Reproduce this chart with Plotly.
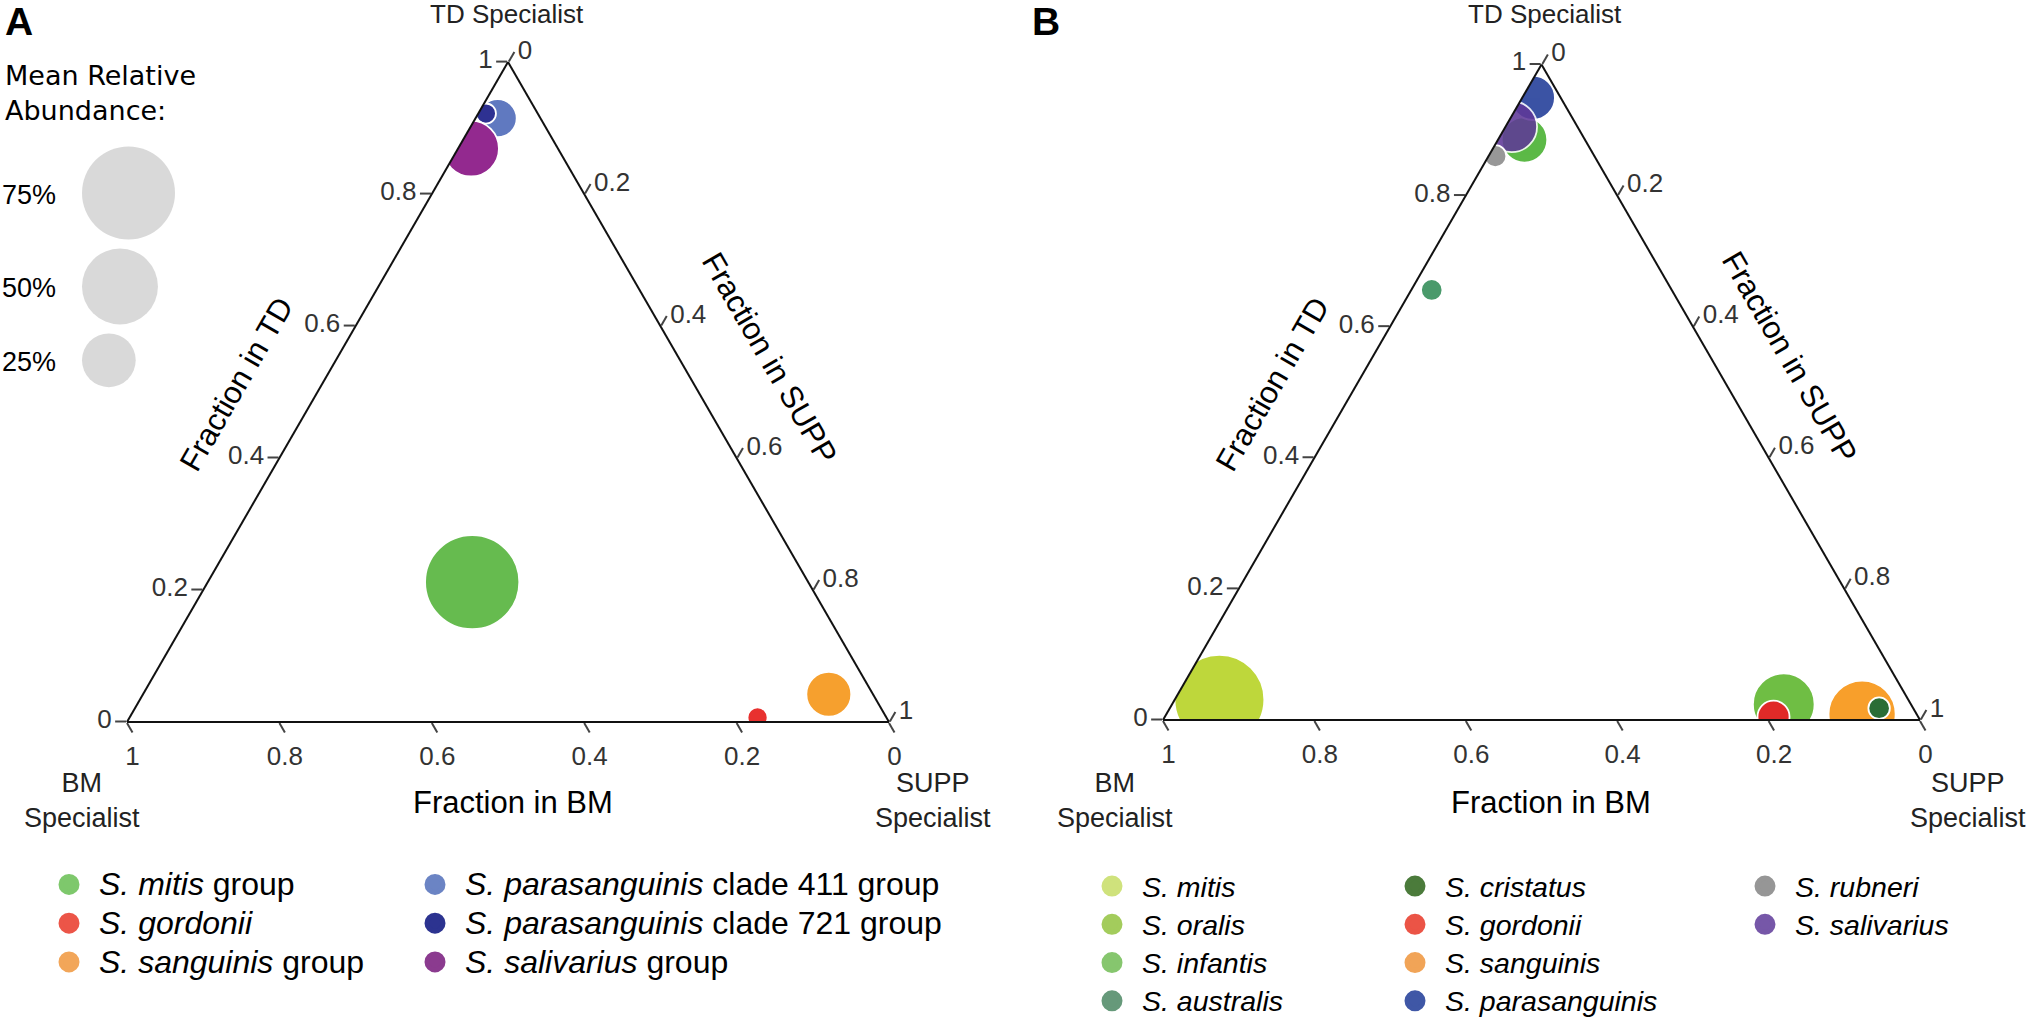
import math
import plotly.graph_objects as go

W, H = 2029, 1023

# ---------------- Panel A data ----------------
a_names = ["<i>S. mitis</i> group", "<i>S. gordonii</i>", "<i>S. sanguinis</i> group",
           "<i>S. parasanguinis</i> clade 411 group", "<i>S. parasanguinis</i> clade 721 group",
           "<i>S. salivarius</i> group"]
a_td = [0.212, 0.007, 0.042, 0.915, 0.922, 0.869]
a_bm = [0.441, 0.169, 0.058, 0.056, 0.068, 0.114]
a_supp = [0.347, 0.824, 0.900, 0.029, 0.010, 0.017]
a_abund = [77, 3.5, 17.5, 12.5, 3.5, 27]
a_colors = ["#66bb4f", "#e8312f", "#f6a02e", "#6079c0", "#2e3192", "#93298f"]
a_leg_colors = ["#7ec86c", "#ec5548", "#f2a659", "#6b84c4", "#2c3390", "#8b3b8f"]
a_leg_group = ["legend", "legend", "legend", "legend2", "legend2", "legend2"]

# ---------------- Panel B data ----------------
b_names = ["<i>S. mitis</i>", "<i>S. oralis</i>", "<i>S. infantis</i>", "<i>S. australis</i>",
           "<i>S. cristatus</i>", "<i>S. gordonii</i>", "<i>S. sanguinis</i>", "<i>S. parasanguinis</i>",
           "<i>S. rubneri</i>", "<i>S. salivarius</i>"]
b_td = [0.031, 0.024, 0.885, 0.656, 0.018, 0.005, 0.009, 0.949, 0.860, 0.905]
b_bm = [0.910, 0.168, 0.080, 0.317, 0.045, 0.191, 0.072, 0.037, 0.131, 0.087]
b_supp = [0.059, 0.808, 0.035, 0.027, 0.937, 0.804, 0.919, 0.014, 0.009, 0.008]
b_abund = [70, 33, 18, 4, 4, 8.9, 39, 17, 4.2, 22.5]
b_colors = ["#bed73b", "#6fbe44", "#5cb947", "#4a9a6b", "#2a6d36", "#e02a28", "#f89f2b",
            "#3b53a4", "#979797", "#5f3898"]
b_opacity = [1, 1, 1, 1, 1, 1, 1, 1, 1, 0.88]
b_leg_colors = ["#cfe27c", "#a3cc5c", "#86c66e", "#66997a", "#4b7b3b", "#eb5446", "#f1a457",
                "#3f57a6", "#969696", "#7657a8"]
b_leg_group = ["legend3", "legend3", "legend3", "legend3", "legend4", "legend4", "legend4",
               "legend4", "legend5", "legend5"]
b_draw_order = [0, 1, 2, 3, 7, 9, 8, 5, 6, 4]

# ---------------- size key ----------------
size_levels = [75, 50, 25]
size_labels = ["75%", "50%", "25%"]

K = 10.74                  # px of diameter per sqrt(percent)
SIZEREF = 2.0 / K ** 2     # plotly 'area' sizemode

ARIAL = "Liberation Sans, Arial, sans-serif"


def px(x, y):
    return x / W, 1 - y / H


def tri_domain(left, right, bottom):
    w = right - left
    h = w * math.sqrt(3) / 2
    top = bottom - h
    return dict(x=[left / W, right / W], y=[1 - bottom / H, 1 - top / H])


fig = go.Figure()

# Panel A data traces
for i in range(len(a_names)):
    fig.add_trace(go.Scatterternary(
        a=[a_td[i]], b=[a_bm[i]], c=[a_supp[i]], subplot="ternary",
        mode="markers", name=a_names[i], showlegend=False,
        marker=dict(size=[a_abund[i]], sizemode="area", sizeref=SIZEREF,
                    color=a_colors[i], opacity=1,
                    line=dict(color="white", width=1.8)),
        hoverinfo="name"))

# Panel B data traces
for i in b_draw_order:
    fig.add_trace(go.Scatterternary(
        a=[b_td[i]], b=[b_bm[i]], c=[b_supp[i]], subplot="ternary2",
        mode="markers", name=b_names[i], showlegend=False,
        marker=dict(size=[b_abund[i]], sizemode="area", sizeref=SIZEREF,
                    color=b_colors[i], opacity=b_opacity[i],
                    line=dict(color="white", width=1.8)),
        hoverinfo="name"))

# Size key (hidden cartesian axes measured in pixels)
key_left, key_top, key_gap = 82, 146.5, 9
key_x, key_y = [], []
cur = key_top
for v in size_levels:
    d = K * math.sqrt(v)
    key_x.append(key_left + d / 2)
    key_y.append(cur + d / 2)
    cur += d + key_gap
fig.add_trace(go.Scatter(
    x=key_x, y=key_y, mode="markers", showlegend=False, hoverinfo="skip",
    marker=dict(size=size_levels, sizemode="area", sizeref=SIZEREF, color="#d9d9d9",
                opacity=1, line=dict(width=0)),
    xaxis="x", yaxis="y"))

# Legend-only entries (bigger symbols)
for names, cols, groups, span in ((a_names, a_leg_colors, a_leg_group, 32),
                                  (b_names, b_leg_colors, b_leg_group, 28.5)):
    for n, c, g in zip(names, cols, groups):
        label = '<span style="font-size:%spx">%s</span>' % (span, n)
        fig.add_trace(go.Scatter(
            x=[None], y=[None], mode="markers", name=label, legend=g,
            marker=dict(size=16, color=c, line=dict(color=c, width=5)),
            xaxis="x", yaxis="y"))

axis_common = dict(
    showgrid=False, showline=True, linecolor="#111111", linewidth=2,
    ticks="outside", ticklen=11, tickwidth=1.5, tickcolor="#444444",
    tickmode="linear", tick0=0, dtick=0.2,
    tickfont=dict(family=ARIAL, size=26, color="#333333"),
    title=dict(text=""), min=0)

tern_common = dict(sum=1, bgcolor="white",
                   aaxis=axis_common, baxis=axis_common, caxis=axis_common)

leg_common = dict(orientation="v", xanchor="left", yanchor="top", bgcolor="rgba(0,0,0,0)",
                  borderwidth=0, itemwidth=50, tracegroupgap=0)

legends = {}
for key, xtext, top, fs in (("legend", 99, 860, 27.5), ("legend2", 465, 860, 27.5),
                            ("legend3", 1142, 862, 27.1), ("legend4", 1445, 862, 27.1),
                            ("legend5", 1795, 862, 27.1)):
    legends[key] = dict(leg_common, x=(xtext - 60) / W, y=1 - top / H,
                        font=dict(family=ARIAL, size=fs, color="black"))

annotations = []


def add_text(text, x, y, size, color="black", family=ARIAL, angle=0, xanchor="center",
             yanchor="middle", align="center"):
    xp, yp = px(x, y)
    annotations.append(dict(text=text, x=xp, y=yp, xref="paper", yref="paper", showarrow=False,
                            textangle=angle, xanchor=xanchor, yanchor=yanchor, align=align,
                            font=dict(family=family, size=size, color=color)))


# panel letters
add_text("<b>A</b>", 19, 22, 39)
add_text("<b>B</b>", 1046, 22, 39)

# corner titles
for cx_td, cx_bm, cx_supp in ((507, 82, 933), (1545, 1115, 1968)):
    add_text("TD Specialist", cx_td, 14, 26, color="#222222")
    add_text("BM<br>Specialist", cx_bm, 800, 27, color="#222222")
    add_text("SUPP<br>Specialist", cx_supp, 800, 27, color="#222222")

# edge titles
add_text("Fraction in TD", 236, 384, 31, angle=-60)
add_text("Fraction in TD", 1272, 384, 31, angle=-60)
add_text("Fraction in SUPP", 770, 358, 31, angle=60)
add_text("Fraction in SUPP", 1790, 357, 31, angle=60)
add_text("Fraction in BM", 513, 802, 31)
add_text("Fraction in BM", 1551, 802, 31)

# size key
add_text("Mean Relative<br>Abundance:", 3, 58, 27, family="DejaVu Sans", xanchor="left",
         yanchor="top", align="left")
for lab, yy in zip(size_labels, key_y):
    add_text(lab, 0, yy + 2, 27, xanchor="left")

fig.update_layout(
    width=W, height=H, margin=dict(l=0, r=0, t=0, b=0, autoexpand=False),
    paper_bgcolor="white", plot_bgcolor="rgba(0,0,0,0)",
    ternary=dict(tern_common, domain=tri_domain(127, 889, 722)),
    ternary2=dict(tern_common, domain=tri_domain(1163, 1920, 720)),
    xaxis=dict(domain=[0, 300 / W], range=[0, 300], visible=False, fixedrange=True),
    yaxis=dict(domain=[1 - 420 / H, 1], range=[420, 0], visible=False, fixedrange=True),
    annotations=annotations,
    **legends,
)

fig.write_html("out.html", config={"displayModeBar": False},
               post_script="document.body.style.margin='0';")
